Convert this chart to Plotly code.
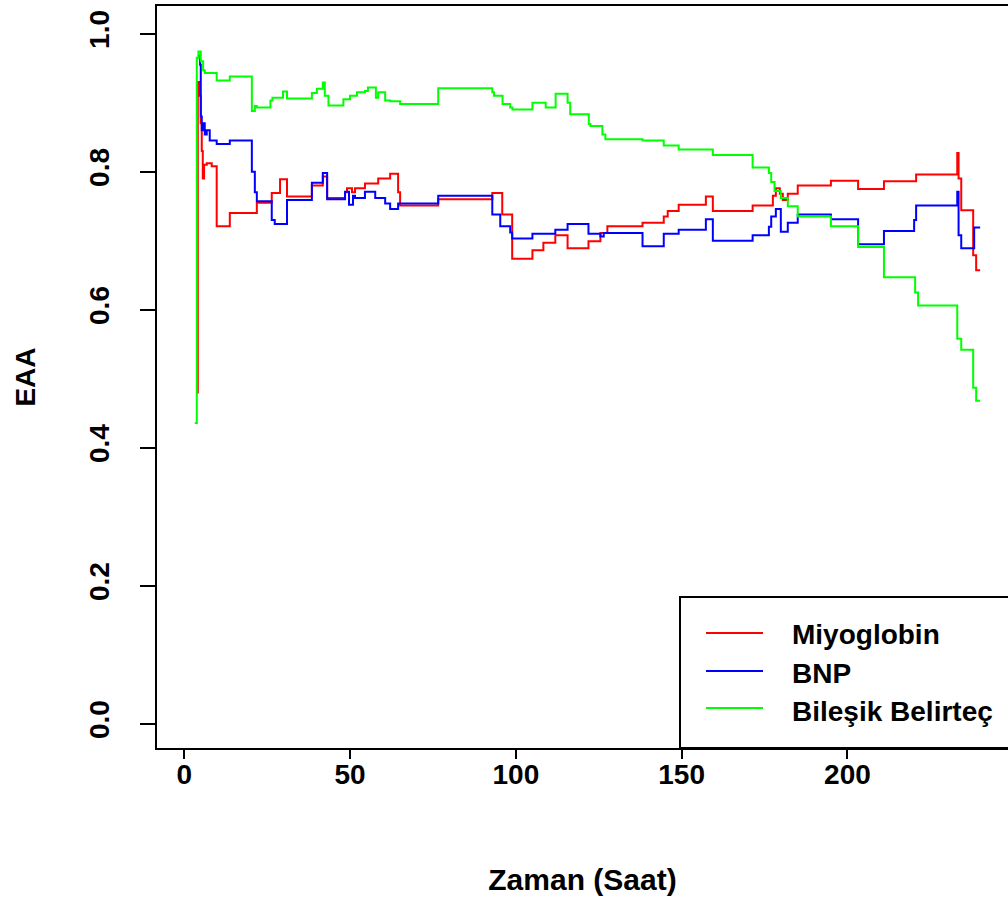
import plotly.graph_objects as go

# ---- data ----
time_myo = [3.8, 4.1, 4.7, 5.0, 5.3, 5.6, 6.0, 6.8, 8.3, 9.8, 13.75, 21.9, 26.4, 28.9, 31.0, 38.5,
            41.8, 43.1, 48.5, 49.1, 50.6, 51.5, 54.5, 58.5, 62.1, 64.5, 65.1, 76.6, 92.9, 95.9,
            98.9, 105.0, 108.3, 111.9, 115.6, 121.9, 125.5, 127.6, 138.2, 144.6, 145.8, 149.1,
            157.3, 159.4, 171.4, 177.5, 178.4, 179.6, 180.5, 182.0, 185.0, 195.0, 203.2, 211.0,
            220.7, 233.1, 233.5, 234.3, 237.9, 238.8, 240.0]
auc_myo = [0.48, 0.93, 0.91, 0.87, 0.83, 0.79, 0.81, 0.812, 0.808, 0.721, 0.740, 0.755, 0.769,
           0.789, 0.764, 0.780, 0.793, 0.762, 0.770, 0.776, 0.770, 0.776, 0.783, 0.790, 0.797,
           0.770, 0.751, 0.760, 0.769, 0.738, 0.674, 0.686, 0.697, 0.708, 0.689, 0.699, 0.711,
           0.721, 0.726, 0.735, 0.743, 0.752, 0.764, 0.743, 0.751, 0.765, 0.776, 0.768, 0.759,
           0.768, 0.780, 0.787, 0.775, 0.786, 0.796, 0.827, 0.790, 0.744, 0.679, 0.657, 0.657]

time_bnp = [4.1, 4.8, 5.0, 5.3, 5.8, 6.2, 6.8, 7.7, 9.8, 13.75, 20.4, 21.3, 21.9, 26.4, 27.3,
            31.0, 38.5, 41.8, 43.1, 48.5, 49.7, 50.9, 51.5, 54.5, 57.6, 60.6, 62.1, 64.5, 76.6,
            92.9, 95.3, 98.3, 98.9, 105.0, 111.9, 115.6, 121.9, 125.5, 126.5, 138.2, 144.6,
            149.1, 157.3, 159.4, 171.4, 176.3, 177.0, 178.4, 179.9, 182.0, 185.0, 195.0, 203.2,
            211.0, 220.1, 220.7, 233.1, 233.5, 234.3, 238.2, 240.0]
auc_bnp = [0.968, 0.955, 0.88, 0.86, 0.87, 0.854, 0.86, 0.845, 0.840, 0.845, 0.80, 0.77, 0.757,
           0.730, 0.724, 0.759, 0.784, 0.798, 0.760, 0.771, 0.752, 0.765, 0.762, 0.771, 0.762,
           0.754, 0.746, 0.754, 0.765, 0.738, 0.721, 0.712, 0.703, 0.710, 0.716, 0.724, 0.710,
           0.706, 0.711, 0.692, 0.710, 0.716, 0.731, 0.700, 0.708, 0.720, 0.735, 0.746, 0.713,
           0.726, 0.738, 0.731, 0.695, 0.714, 0.730, 0.751, 0.771, 0.708, 0.689, 0.719, 0.719]

time_comb = [3.2, 3.8, 4.3, 5.0, 5.7, 6.2, 9.8, 13.75, 20.4, 21.3, 21.9, 26.0, 26.6, 29.8, 31.0,
             38.5, 40.0, 41.8, 42.4, 43.5, 48.0, 50.0, 52.1, 54.5, 55.4, 57.8, 58.5, 60.6, 62.1,
             65.1, 76.6, 92.9, 93.4, 96.0, 98.3, 99.0, 105.0, 109.0, 112.0, 115.6, 116.4, 122.0,
             122.5, 126.1, 127.0, 138.2, 144.6, 149.1, 159.4, 171.4, 176.3, 177.0, 178.0, 179.9,
             182.0, 185.0, 195.0, 203.2, 211.0, 220.4, 221.3, 233.1, 234.3, 237.9, 238.8, 240.0]
auc_comb = [0.436, 0.965, 0.974, 0.960, 0.947, 0.943, 0.932, 0.938, 0.888, 0.895, 0.893, 0.903,
            0.907, 0.916, 0.906, 0.914, 0.920, 0.929, 0.910, 0.896, 0.905, 0.910, 0.915, 0.917,
            0.922, 0.907, 0.915, 0.903, 0.902, 0.898, 0.921, 0.915, 0.910, 0.898, 0.893, 0.890,
            0.900, 0.893, 0.913, 0.900, 0.883, 0.869, 0.866, 0.854, 0.847, 0.845, 0.838, 0.832,
            0.824, 0.806, 0.798, 0.785, 0.772, 0.762, 0.750, 0.735, 0.721, 0.691, 0.647, 0.625,
            0.606, 0.558, 0.542, 0.487, 0.468, 0.468]

series_names = ["Miyoglobin", "BNP", "Bileşik Belirteç"]
series_colors = ["#FF0000", "#0000FF", "#00FF00"]
x_ticks = [0, 50, 100, 150, 200]
y_ticks = [0.0, 0.2, 0.4, 0.6, 0.8, 1.0]
y_tick_labels = ["0.0", "0.2", "0.4", "0.6", "0.8", "1.0"]

FONT = "Liberation Sans, Arial, Helvetica, sans-serif"

W, H = 1008, 902
L, R, T, B = 157, 0, 6, 154
PW, PH = W - L - R, H - T - B

def pxx(p):
    return (p - L) / PW

def pxy(p):
    return (H - B - p) / PH

fig = go.Figure()
for t, v, name, col in zip([time_myo, time_bnp, time_comb], [auc_myo, auc_bnp, auc_comb],
                           series_names, series_colors):
    fig.add_trace(go.Scatter(x=t, y=v, mode="lines", name=name, showlegend=False,
                             line=dict(color=col, width=2, shape="hv")))

# legend drawn as a boxed key (R-style)
shapes = [dict(type="rect", xref="paper", yref="paper", x0=pxx(680), x1=pxx(1012),
               y0=pxy(748), y1=pxy(597), line=dict(color="black", width=2),
               fillcolor="white", layer="above")]
annotations = []
line_rows = [633, 671, 708]
text_rows = [634, 673, 711]
for name, col, ly, ty in zip(series_names, series_colors, line_rows, text_rows):
    shapes.append(dict(type="line", xref="paper", yref="paper", x0=pxx(706), x1=pxx(763),
                       y0=pxy(ly), y1=pxy(ly), line=dict(color=col, width=2), layer="above"))
    annotations.append(dict(xref="paper", yref="paper", x=pxx(790), y=pxy(ty), text=name,
                            showarrow=False, xanchor="left", yanchor="middle",
                            font=dict(family=FONT, size=28, color="black", weight="bold")))

fig.update_layout(
    width=W, height=H,
    margin=dict(l=L, r=R, t=T, b=B, pad=0),
    paper_bgcolor="white", plot_bgcolor="white",
    shapes=shapes, annotations=annotations,
    xaxis=dict(range=[-8.2, 248.4], tickvals=x_ticks, ticks="outside", ticklen=9,
               tickwidth=2, tickcolor="black", showline=True, linecolor="black",
               linewidth=2, mirror=True, showgrid=False, zeroline=False,
               ticklabelstandoff=-9,
               tickfont=dict(family=FONT, size=28, color="black", weight="bold"),
               title=dict(text="Zaman (Saat)", standoff=80,
                          font=dict(family=FONT, size=30, color="black", weight="bold"))),
    yaxis=dict(range=[-0.035, 1.04], tickvals=y_ticks, ticktext=y_tick_labels,
               ticks="outside", ticklen=15, tickwidth=2, tickcolor="black",
               showline=True, linecolor="black", linewidth=2, mirror=False,
               showgrid=False, zeroline=False, tickangle=-90, ticklabelstandoff=20,
               tickfont=dict(family=FONT, size=28, color="black", weight="bold"),
               title=dict(text="EAA", standoff=40,
                          font=dict(family=FONT, size=28, color="black", weight="bold"))),
)

fig.write_html("out.html")
